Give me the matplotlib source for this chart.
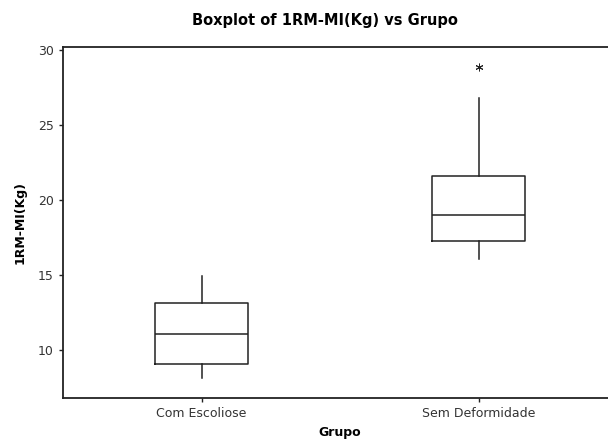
import matplotlib
matplotlib.use("Agg")
import matplotlib.pyplot as plt

groups = ["Com Escoliose", "Sem Deformidade"]
q1 = [9.07, 17.27]
medians = [11.07, 19.0]
q3 = [13.13, 21.6]
whislo = [8.13, 16.07]
whishi = [14.93, 26.8]
fliers = [[], [28.87]]
yticks = [10, 15, 20, 25, 30]

fig = plt.figure(figsize=(6.08, 4.42), dpi=100)
ax = fig.add_axes([63/608, 44/442, (617-63)/608, (398-47)/442])

stats = []
for i, g in enumerate(groups):
    stats.append(dict(label=g, med=medians[i], q1=q1[i], q3=q3[i],
                      whislo=whislo[i], whishi=whishi[i], fliers=fliers[i]))

ax.bxp(stats, positions=[1, 2], widths=0.335, showcaps=False,
       boxprops=dict(color="#222222", linewidth=1.1),
       whiskerprops=dict(color="#222222", linewidth=1.1),
       medianprops=dict(color="#222222", linewidth=1.1),
       flierprops=dict(marker=(6, 2, 0), markersize=5.5, markeredgecolor="#222222",
                       markeredgewidth=0.7, linestyle="none"))

ax.set_xlim(0.5, 2.5)
ax.set_ylim(6.8, 30.2)
ax.set_yticks(yticks)
ax.set_xticks([1, 2])
ax.set_xticklabels(groups)
for s in ax.spines.values():
    s.set_linewidth(1.3)
    s.set_color("#222222")
ax.tick_params(direction="out", length=3, width=1, colors="#222222",
               labelsize=9, labelcolor="#333333")

ax.set_ylabel("1RM-MI(Kg)", fontsize=9, fontweight="bold", labelpad=8)
ax.set_xlabel("Grupo", fontsize=9, fontweight="bold", labelpad=4)
fig.text(325/608, 1 - 20/442, "Boxplot of 1RM-MI(Kg) vs Grupo", ha="center",
         va="center", fontsize=10.5, fontweight="bold")

fig.savefig("out.png", dpi=100)
